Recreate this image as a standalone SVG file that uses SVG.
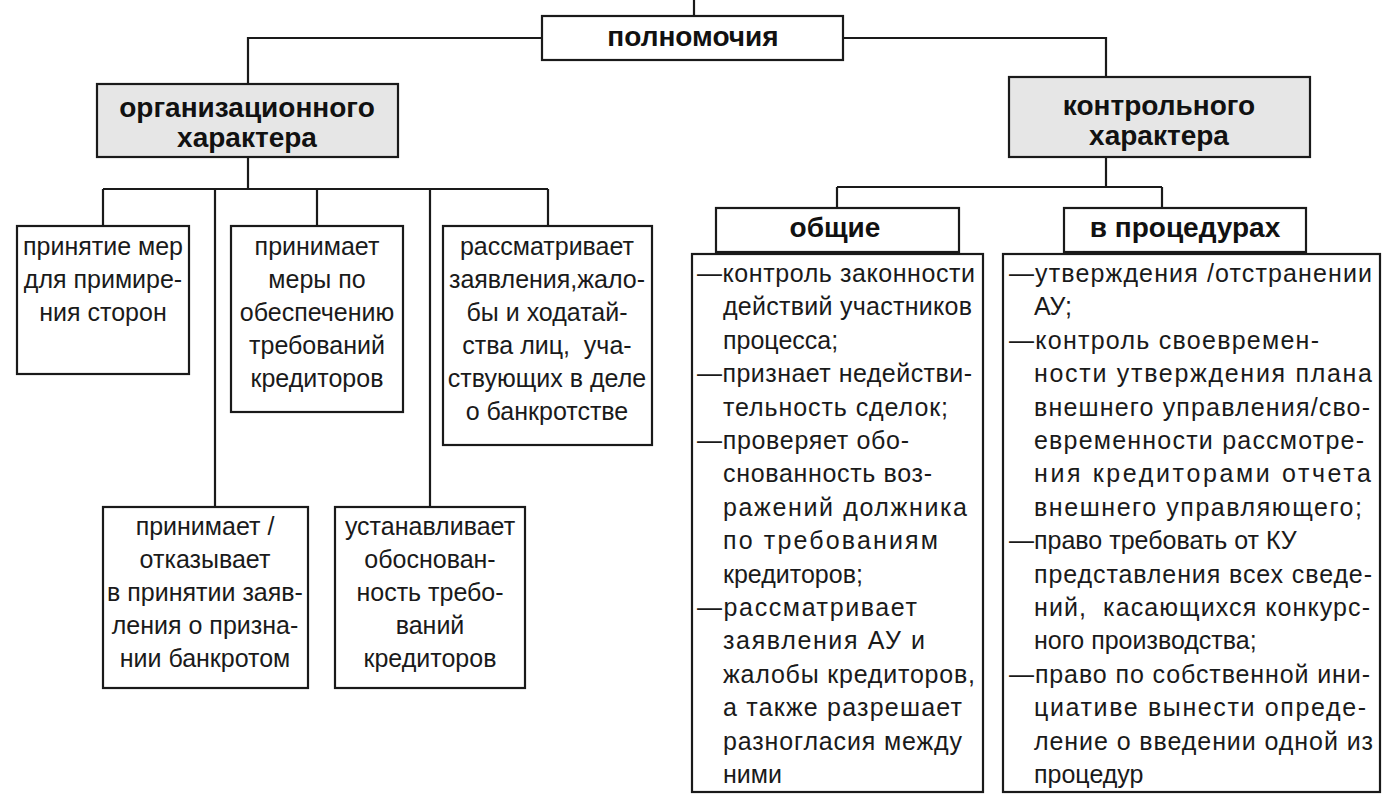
<svg xmlns="http://www.w3.org/2000/svg" width="1385" height="811" viewBox="0 0 1385 811">
<style>
.box{fill:#ffffff;stroke:#1a1a1a;stroke-width:2.2}
.gray{fill:#e6e6e6}
.con{fill:none;stroke:#1a1a1a;stroke-width:2.2}
.t{font-family:"Liberation Sans",Arial,sans-serif;font-size:25px;fill:#1a1a1a}
.b{font-family:"Liberation Sans",Arial,sans-serif;font-size:28px;font-weight:bold;fill:#111}
.c{text-anchor:middle}
</style>
<rect width="1385" height="811" fill="#ffffff"/>
<g id="connectors">
<path class="con" d="M694,0 V16"/>
<path class="con" d="M542,38 H248 V84"/>
<path class="con" d="M843,38 H1106 V77"/>
<path class="con" d="M248,157 V189"/>
<path class="con" d="M103,189 H548"/>
<path class="con" d="M103,189 V226"/>
<path class="con" d="M215,189 V507"/>
<path class="con" d="M317,189 V226"/>
<path class="con" d="M430,189 V507"/>
<path class="con" d="M548,189 V226"/>
<path class="con" d="M1106,157 V187"/>
<path class="con" d="M837,187 H1162"/>
<path class="con" d="M837,187 V208"/>
<path class="con" d="M1162,187 V208"/>
</g>
<g id="n-polnomochia">
<rect class="box" x="542" y="16" width="301" height="44"/>
<text class="b c" x="693" y="46">полномочия</text>
</g>
<g id="n-org">
<rect class="box gray" x="97" y="84" width="301" height="73"/>
<text class="b c" x="247" y="117">организационного</text>
<text class="b c" x="247" y="147">характера</text>
</g>
<g id="n-kontr">
<rect class="box gray" x="1009" y="77" width="301" height="80"/>
<text class="b c" x="1159" y="115">контрольного</text>
<text class="b c" x="1159" y="145">характера</text>
</g>
<g id="n-org1">
<rect class="box" x="17" y="226" width="172" height="148"/>
<text class="t c" x="103" y="255">принятие мер</text>
<text class="t c" x="103" y="288">для примире-</text>
<text class="t c" x="103" y="321">ния сторон</text>
</g>
<g id="n-org2">
<rect class="box" x="231" y="226" width="172" height="186"/>
<text class="t c" x="317" y="255">принимает</text>
<text class="t c" x="317" y="288">меры по</text>
<text class="t c" x="317" y="321">обеспечению</text>
<text class="t c" x="317" y="354">требований</text>
<text class="t c" x="317" y="387">кредиторов</text>
</g>
<g id="n-org3">
<rect class="box" x="443" y="226" width="209" height="219"/>
<text class="t c" x="547" y="255">рассматривает</text>
<text class="t c" x="547" y="288">заявления,жало-</text>
<text class="t c" x="547" y="321">бы и ходатай-</text>
<text class="t c" x="547" y="354" xml:space="preserve">ства лиц,  уча-</text>
<text class="t c" x="547" y="387">ствующих в деле</text>
<text class="t c" x="547" y="420">о банкротстве</text>
</g>
<g id="n-org4">
<rect class="box" x="103" y="507" width="205" height="181"/>
<text class="t c" x="205" y="535">принимает /</text>
<text class="t c" x="205" y="568">отказывает</text>
<text class="t c" x="205" y="601">в принятии заяв-</text>
<text class="t c" x="205" y="634">ления о призна-</text>
<text class="t c" x="205" y="667">нии банкротом</text>
</g>
<g id="n-org5">
<rect class="box" x="335" y="507" width="190" height="181"/>
<text class="t c" x="430" y="535">устанавливает</text>
<text class="t c" x="430" y="568">обоснован-</text>
<text class="t c" x="430" y="601">ность требо-</text>
<text class="t c" x="430" y="634">ваний</text>
<text class="t c" x="430" y="667">кредиторов</text>
</g>
<g id="n-obshie">
<rect class="box" x="716" y="208" width="243" height="44"/>
<text class="b c" x="835" y="237">общие</text>
</g>
<g id="n-procedury">
<rect class="box" x="1064" y="208" width="242" height="44"/>
<text class="b c" x="1185" y="237">в процедурах</text>
</g>
<g id="n-obshie-list">
<rect class="box" x="692" y="254" width="291" height="538"/>
<text class="t" x="697" y="282" textLength="278">—контроль законности</text>
<text class="t" x="723" y="315" textLength="249">действий участников</text>
<text class="t" x="723" y="349">процесса;</text>
<text class="t" x="697" y="382" textLength="275">—признает недействи-</text>
<text class="t" x="723" y="416" textLength="225">тельность сделок;</text>
<text class="t" x="697" y="449" textLength="212">—проверяет обо-</text>
<text class="t" x="723" y="482" textLength="209">снованность воз-</text>
<text class="t" x="723" y="516" textLength="244">ражений должника</text>
<text class="t" x="723" y="549" textLength="215">по требованиям</text>
<text class="t" x="723" y="583">кредиторов;</text>
<text class="t" x="697" y="616" textLength="220">—рассматривает</text>
<text class="t" x="723" y="649" textLength="202">заявления АУ и</text>
<text class="t" x="723" y="683" textLength="252">жалобы кредиторов,</text>
<text class="t" x="723" y="716" textLength="239">а также разрешает</text>
<text class="t" x="723" y="750" textLength="239">разногласия между</text>
<text class="t" x="723" y="783">ними</text>
</g>
<g id="n-procedury-list">
<rect class="box" x="1003" y="254" width="377" height="538"/>
<text class="t" x="1009" y="282" textLength="363">—утверждения /отстранении</text>
<text class="t" x="1034" y="315">АУ;</text>
<text class="t" x="1009" y="349" textLength="310">—контроль своевремен-</text>
<text class="t" x="1034" y="382" textLength="338">ности утверждения плана</text>
<text class="t" x="1034" y="416" textLength="336">внешнего управления/сво-</text>
<text class="t" x="1034" y="449" textLength="330">евременности рассмотре-</text>
<text class="t" x="1034" y="482" textLength="337">ния кредиторами отчета</text>
<text class="t" x="1034" y="516" textLength="328">внешнего управляющего;</text>
<text class="t" x="1009" y="549">—право требовать от КУ</text>
<text class="t" x="1034" y="583" textLength="338">представления всех сведе-</text>
<text class="t" x="1034" y="616" textLength="336" xml:space="preserve">ний,  касающихся конкурс-</text>
<text class="t" x="1034" y="649">ного производства;</text>
<text class="t" x="1009" y="683" textLength="361">—право по собственной ини-</text>
<text class="t" x="1034" y="716" textLength="332">циативе вынести опреде-</text>
<text class="t" x="1034" y="750" textLength="339">ление о введении одной из</text>
<text class="t" x="1034" y="783">процедур</text>
</g>
</svg>
